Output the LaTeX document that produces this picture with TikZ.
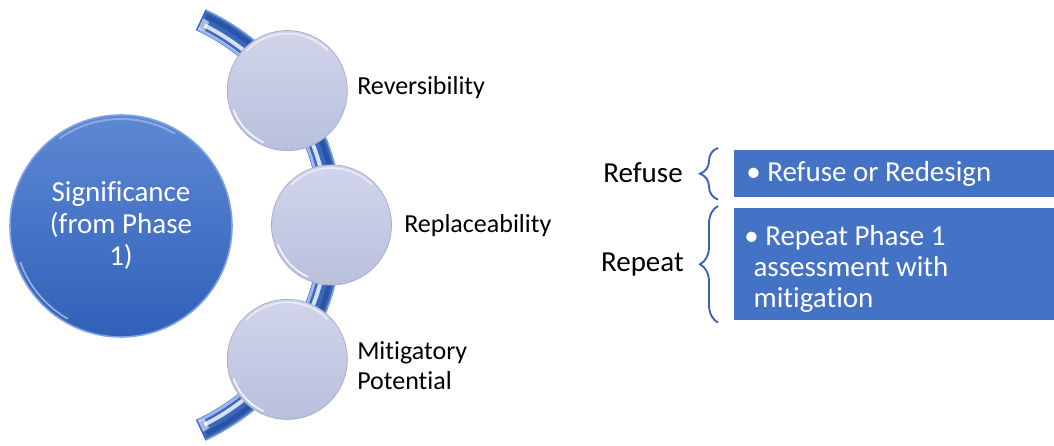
\documentclass[tikz,border=0pt]{standalone}
\usepackage{fontspec}
\setmainfont{Carlito}[Ligatures=NoCommon]
\usetikzlibrary{decorations.pathreplacing,calc}

\definecolor{boxblue}{HTML}{4472C4}
\definecolor{bracecol}{HTML}{3A62AE}
\definecolor{sigtop}{HTML}{5D88D4}
\definecolor{sigbot}{HTML}{3060B9}
\definecolor{sigrim}{HTML}{7FA2E0}
\definecolor{balltop}{HTML}{D0D5EB}
\definecolor{ballbot}{HTML}{B9C0DC}
\definecolor{ballrim}{HTML}{A7AFCE}
\definecolor{bandbase}{HTML}{3A68BD}
\definecolor{banddark}{HTML}{2A54A5}
\definecolor{bandlight}{HTML}{9AB8EC}

\newcommand\bigtxt{\fontsize{21.75pt}{23.25pt}\selectfont}
\newcommand\sigtxt{\fontsize{21.75pt}{24pt}\selectfont}
\newcommand\lbltxt{\fontsize{19.5pt}{22.5pt}\selectfont}

\tikzset{
  x=0.75pt, y=0.75pt,
  bigball/.style={circle, minimum size=166.5pt, inner sep=0pt,
    top color=sigtop, bottom color=sigbot, draw=sigrim, line width=1.2pt,
    text=white, align=center, font=\sigtxt},
  smallball/.style={circle, minimum size=90pt, inner sep=0pt,
    top color=balltop, bottom color=ballbot, draw=ballrim, line width=0.6pt},
  lbl/.style={inner sep=0pt, font=\lbltxt, text=black, align=left},
  sidelbl/.style={inner sep=0pt, font=\bigtxt, text=black},
  optbox/.style={fill=boxblue, draw=none, inner sep=0pt, anchor=north west},
  boxtxt/.style={inner sep=0pt, font=\bigtxt, text=white, align=left},
  curly/.style={draw=bracecol, line width=1.4pt,
    decorate, decoration={brace, amplitude=13.5pt}},
  glint/.style={white, line cap=round},
}

\begin{document}
\begin{tikzpicture}
\useasboundingbox (0,0) rectangle (1054,446);

% curved band behind the three small balls
\begin{scope}[shift={(105,221)}]
  \fill[bandbase] (65:238) arc[start angle=65, end angle=-65, radius=238]
    -- (-65:215) arc[start angle=-65, end angle=65, radius=215] -- cycle;
  \draw[bandlight, line width=2.2pt] (64.6:217) arc[start angle=64.6, end angle=-64.6, radius=217];
  \draw[white, opacity=0.8, line width=3pt] (63.5:223) arc[start angle=63.5, end angle=-63.5, radius=223];
  \draw[banddark, line width=3.5pt] (64:232) arc[start angle=64, end angle=-64, radius=232];
  \draw[bandlight, opacity=0.7, line width=1pt] (64.8:237.3) arc[start angle=64.8, end angle=-64.8, radius=237.3];
  % bevelled end faces
  \fill[white, opacity=0.55] (64.6:217) -- (64.6:229) -- (62.8:228) -- (62.8:218) -- cycle;
  \fill[white, opacity=0.55] (-64.6:217) -- (-64.6:229) -- (-62.8:228) -- (-62.8:218) -- cycle;
\end{scope}

% main ball
\node[bigball] (sig) at (121,220) {Significance\\(from Phase\\1)};
\draw[glint, opacity=0.3, line width=1.5pt] ([shift={(60:107)}]sig.center) arc[start angle=60, end angle=125, radius=107];
\draw[glint, opacity=0.5, line width=1.2pt] ([shift={(200:107)}]sig.center) arc[start angle=200, end angle=240, radius=107];

% three criteria balls on the band
\foreach \nm/\ang in {rev/36.4, rep/0, mit/-36.4}{
  \node[smallball] (\nm) at ($(105,221)+(\ang:226.5)$) {};
  \draw[glint, opacity=0.6, line width=1.1pt] ([shift={(45:57)}]\nm.center) arc[start angle=45, end angle=135, radius=57];
  \draw[glint, opacity=0.8, line width=1.3pt] ([shift={(200:57)}]\nm.center) arc[start angle=200, end angle=245, radius=57];
}

\node[lbl, anchor=west] (revlbl) at (357,358) {Reversibility};
\node[lbl, anchor=west] (replbl) at (404,220) {Replaceability};
\node[lbl, anchor=west] (mitlbl) at (357,80) {Mitigatory\\Potential};

% outcomes
\node[optbox, minimum width=240pt, minimum height=35.25pt] (refusebox) at (734,296) {};
\node[optbox, minimum width=240pt, minimum height=84pt] (repeatbox) at (734,238) {};

\node[boxtxt, anchor=west] (refusetxt) at ([xshift=9pt]refusebox.west) {\textbullet\ Refuse or Redesign};
\node[boxtxt, anchor=north west] (repeattxt) at ([shift={(7.5pt,-13pt)}]repeatbox.north west)
  {\textbullet\ Repeat Phase 1\\\hspace{7pt}assessment with\\\hspace{7pt}mitigation};

\draw[curly] ([shift={(-12pt,-1.5pt)}]refusebox.south west) -- ([shift={(-12pt,1.5pt)}]refusebox.north west);
\draw[curly] ([shift={(-12pt,-1.5pt)}]repeatbox.south west) -- ([shift={(-12pt,1.5pt)}]repeatbox.north west);

\node[sidelbl, anchor=east] (refuselbl) at (683,273) {Refuse};
\node[sidelbl, anchor=east] (repeatlbl) at (684,181) {Repeat};
\end{tikzpicture}
\end{document}
